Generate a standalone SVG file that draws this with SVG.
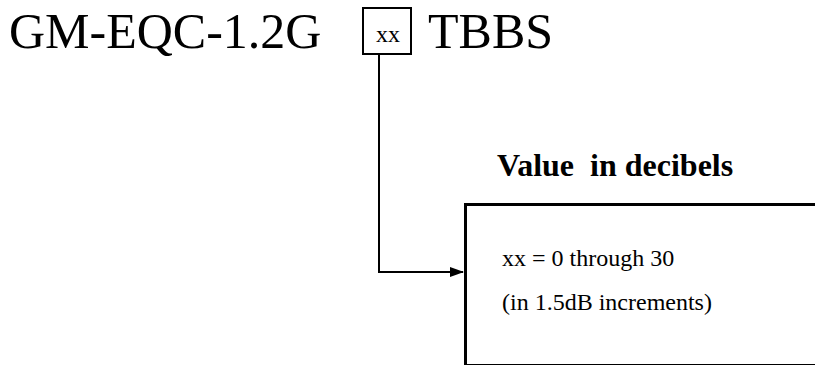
<svg xmlns="http://www.w3.org/2000/svg" width="815" height="365" viewBox="0 0 815 365">
<style>
.t{font-family:"Liberation Serif","Times New Roman",serif;fill:#000}
.box{fill:#fff;stroke:#000}
.conn{fill:none;stroke:#000;stroke-width:2}
</style>
<defs>
<marker id="ah" markerWidth="14" markerHeight="10" refX="13" refY="5" orient="auto" markerUnits="userSpaceOnUse">
<path d="M0,0 L14,5 L0,10 Z" fill="#000"/>
</marker>
</defs>
<rect width="815" height="365" fill="#fff"/>
<g id="title">
<text class="t" x="9" y="48" font-size="50">GM-EQC-1.2G</text>
<text class="t" x="428" y="48" font-size="50">TBBS</text>
</g>
<g id="xx-box">
<rect class="box" x="363" y="8" width="48" height="46" stroke-width="2"/>
<text class="t" x="388" y="42" font-size="24" text-anchor="middle">xx</text>
</g>
<g id="label">
<text class="t" x="497" y="176" font-size="32" font-weight="bold" xml:space="preserve">Value  in decibels</text>
</g>
<g id="value-box">
<rect class="box" x="465.5" y="204.5" width="360" height="161" stroke-width="3"/>
<text class="t" x="502" y="266" font-size="24">xx = 0 through 30</text>
<text class="t" x="502" y="310" font-size="24">(in 1.5dB increments)</text>
</g>
<g id="connectors">
<path class="conn" d="M379,54 V272 H463" marker-end="url(#ah)"/>
</g>
</svg>
